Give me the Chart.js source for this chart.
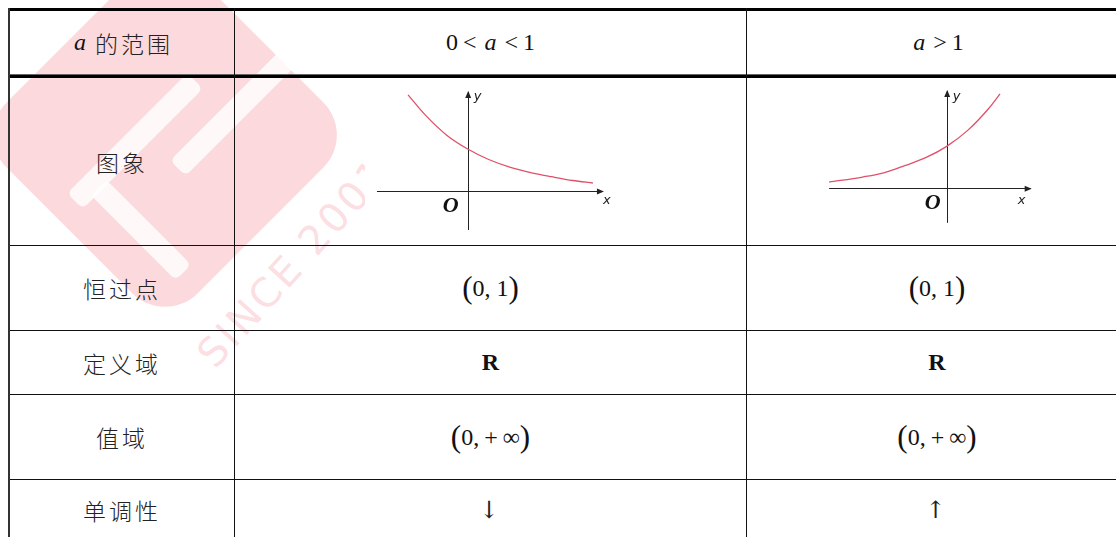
<!DOCTYPE html>
<html>
<head>
<meta charset="utf-8">
<script src="https://cdn.jsdelivr.net/npm/chart.js@4.4.0/dist/chart.umd.min.js"></script>
<style>
  html, body { margin: 0; padding: 0; background: #fff; overflow: hidden; }
  #page { position: relative; width: 1116px; height: 537px; overflow: hidden; }
  .hl, .vl { position: absolute; background: #111; }
  .cell {
    position: absolute; display: flex; align-items: center; justify-content: center;
    font-family: "Noto Sans CJK SC", sans-serif; font-weight: 300; font-size: 23px;
    letter-spacing: 3px; color: #222;
  }
  .math { font-family: "Liberation Serif", serif; font-weight: 400; font-size: 24px; letter-spacing: 0; color: #111; }
  .math i { margin: 0 3px; }
  .op { margin: 0 5px; }
  .par { font-size: 31px; line-height: 1; position: relative; top: -1px; }
  .arr { font-family: "DejaVu Serif", serif; font-size: 24px; }
  .wm { position: absolute; }
  canvas { position: absolute; background: #fff; }
</style>
</head>
<body>
<div id="page">

  <!-- watermark -->
  <div class="wm" style="left:30px;top:0px;width:270px;height:270px;transform:rotate(45deg);background:rgba(236,80,95,0.22);border-radius:46px;"></div>
  <div class="wm" style="left:50px;top:130px;width:170px;height:22px;transform:rotate(-45deg);background:rgba(255,255,255,0.8);border-radius:6px;"></div>
  <div class="wm" style="left:150px;top:90px;width:190px;height:22px;transform:rotate(-45deg);background:rgba(255,255,255,0.8);border-radius:6px;"></div>
  <div class="wm" style="left:130px;top:170px;width:22px;height:120px;transform:rotate(-45deg);background:rgba(255,255,255,0.8);border-radius:6px;"></div>
  <div class="wm" style="left:222px;top:330px;height:46px;font:40px 'DejaVu Sans',sans-serif;line-height:46px;color:rgba(240,110,125,0.24);transform-origin:0 100%;transform:rotate(-48deg);letter-spacing:3px;white-space:nowrap;">SINCE 2001</div>

  <!-- grid lines -->
  <div class="hl" style="left:8px;top:8px;width:1120px;height:3px;background:#000"></div>
  <div class="hl" style="left:8px;top:74px;width:1120px;height:1px;background:#666"></div>
  <div class="hl" style="left:8px;top:75px;width:1120px;height:3px;background:#000"></div>
  <div class="hl" style="left:8px;top:245px;width:1120px;height:1px"></div>
  <div class="hl" style="left:8px;top:330px;width:1120px;height:1px"></div>
  <div class="hl" style="left:8px;top:394px;width:1120px;height:1px"></div>
  <div class="hl" style="left:8px;top:479px;width:1120px;height:1px"></div>
  <div class="vl" style="left:8px;top:8px;width:2px;height:540px;background:#333"></div>
  <div class="vl" style="left:234px;top:8px;width:1px;height:540px"></div>
  <div class="vl" style="left:746px;top:8px;width:1px;height:540px"></div>

  <!-- column 1 -->
  <div class="cell" style="left:10px;top:11px;width:224px;height:63px;"><span class="math" style="margin-right:6px"><i>a</i></span>的范围</div>
  <div class="cell" style="left:10px;top:78px;width:224px;height:167px;">图象</div>
  <div class="cell" style="left:10px;top:246px;width:224px;height:84px;">恒过点</div>
  <div class="cell" style="left:10px;top:331px;width:224px;height:63px;">定义域</div>
  <div class="cell" style="left:10px;top:395px;width:224px;height:84px;">值域</div>
  <div class="cell" style="left:10px;top:480px;width:224px;height:60px;">单调性</div>

  <!-- column 2 -->
  <div class="cell math" style="left:235px;top:11px;width:511px;height:63px;">0<span class="op">&lt;</span><i>a</i><span class="op">&lt;</span>1</div>
  <div class="cell math" style="left:235px;top:246px;width:511px;height:84px;"><span class="par">(</span>0,&nbsp;1<span class="par">)</span></div>
  <div class="cell math" style="left:235px;top:331px;width:511px;height:63px;"><b>R</b></div>
  <div class="cell math" style="left:235px;top:395px;width:511px;height:84px;"><span class="par">(</span>0,<span class="op">+</span>∞<span class="par">)</span></div>
  <div class="cell arr" style="left:235px;top:480px;width:511px;height:60px;">↓</div>

  <!-- column 3 -->
  <div class="cell math" style="left:747px;top:11px;width:380px;height:63px;"><i>a</i><span class="op">&gt;</span>1</div>
  <div class="cell math" style="left:747px;top:246px;width:380px;height:84px;"><span class="par">(</span>0,&nbsp;1<span class="par">)</span></div>
  <div class="cell math" style="left:747px;top:331px;width:380px;height:63px;"><b>R</b></div>
  <div class="cell math" style="left:747px;top:395px;width:380px;height:84px;"><span class="par">(</span>0,<span class="op">+</span>∞<span class="par">)</span></div>
  <div class="cell arr" style="left:747px;top:480px;width:380px;height:60px;">↑</div>

  <canvas id="chartDown" width="255" height="155" style="left:365px;top:80px;"></canvas>
  <canvas id="chartUp" width="230" height="150" style="left:820px;top:85px;"></canvas>
</div>

<script>
// curve for 0 < a < 1 (1 unit = y-intercept height)
const downX = [-1.42, -1, -0.5, 0, 0.5, 1, 1.5, 2, 2.5, 2.98];
const downY = [2.29, 1.8, 1.33, 1, 0.75, 0.57, 0.44, 0.34, 0.25, 0.19];

// curve for a > 1
const upX = [-2.8, -2, -1.5, -1, -0.5, 0, 0.5, 1, 1.27];
const upY = [0.15, 0.27, 0.37, 0.54, 0.73, 1, 1.38, 1.9, 2.25];

// axis extents [from, to]
const downXAxis = [-2.16, 3.22];
const downYAxis = [-0.93, 2.36];
const upXAxis = [-2.8, 2.0];
const upYAxis = [-0.82, 2.32];

const curveColor = "#e0506a";

// AXES WITH ARROWS + x / y / O LABELS
const axesPlugin = {
  id: "axes",
  beforeDatasetsDraw(chart, args, opts) {
    const ctx = chart.ctx;
    const sx = chart.scales.x, sy = chart.scales.y;
    const ox = sx.getPixelForValue(0), oy = sy.getPixelForValue(0);
    const x0 = sx.getPixelForValue(opts.xAxis[0]), x1 = sx.getPixelForValue(opts.xAxis[1]);
    const y0 = sy.getPixelForValue(opts.yAxis[0]), y1 = sy.getPixelForValue(opts.yAxis[1]);
    ctx.save();
    ctx.strokeStyle = "#222";
    ctx.fillStyle = "#222";
    ctx.lineWidth = 1;
    ctx.beginPath();
    ctx.moveTo(x0, Math.round(oy) + 0.5);
    ctx.lineTo(x1, Math.round(oy) + 0.5);
    ctx.moveTo(Math.round(ox) + 0.5, y0);
    ctx.lineTo(Math.round(ox) + 0.5, y1);
    ctx.stroke();
    // arrow heads
    ctx.beginPath();
    ctx.moveTo(x1 + 1, oy + 0.5);
    ctx.lineTo(x1 - 6, oy - 2.5);
    ctx.lineTo(x1 - 6, oy + 3.5);
    ctx.closePath();
    ctx.fill();
    ctx.beginPath();
    ctx.moveTo(ox + 0.5, y1 - 1);
    ctx.lineTo(ox - 2.5, y1 + 6);
    ctx.lineTo(ox + 3.5, y1 + 6);
    ctx.closePath();
    ctx.fill();
    // labels
    ctx.textAlign = "center";
    ctx.textBaseline = "middle";
    ctx.font = "italic 13px 'DejaVu Sans', sans-serif";
    ctx.fillText("y", ox + opts.yLab[0], y1 + opts.yLab[1]);
    ctx.fillText("x", x1 + opts.xLab[0], oy + opts.xLab[1]);
    ctx.fillStyle = "#111";
    ctx.font = "italic bold 22px 'Liberation Serif', serif";
    ctx.fillText("O", ox + opts.oLab[0], oy + opts.oLab[1]);
    ctx.restore();
  },
};

function makeChart(id, xs, ys, range, axes) {
  new Chart(document.getElementById(id), {
    type: "scatter",
    data: {
      datasets: [
        {
          data: xs.map((x, i) => ({ x: x, y: ys[i] })),
          showLine: true,
          borderColor: curveColor,
          borderWidth: 1.3,
          pointRadius: 0,
          cubicInterpolationMode: "monotone",
        },
      ],
    },
    options: {
      responsive: false,
      animation: false,
      events: [],
      layout: { padding: 0 },
      plugins: {
        legend: { display: false },
        tooltip: { enabled: false },
        axes: axes,
      },
      scales: {
        x: { type: "linear", display: false, min: range[0], max: range[1] },
        y: { type: "linear", display: false, min: range[2], max: range[3] },
      },
    },
    plugins: [axesPlugin],
  });
}

makeChart("chartDown", downX, downY, [-2.445, 3.626, -1.048, 2.643], {
  xAxis: downXAxis, yAxis: downYAxis,
  yLab: [10, 5], xLab: [4, 10], oLab: [-17, 15],
});

makeChart("chartUp", upX, upY, [-3.017, 2.46, -1.11, 2.46], {
  xAxis: upXAxis, yAxis: upYAxis,
  yLab: [10, 6], xLab: [-9, 12], oLab: [-14, 15],
});
</script>
</body>
</html>
